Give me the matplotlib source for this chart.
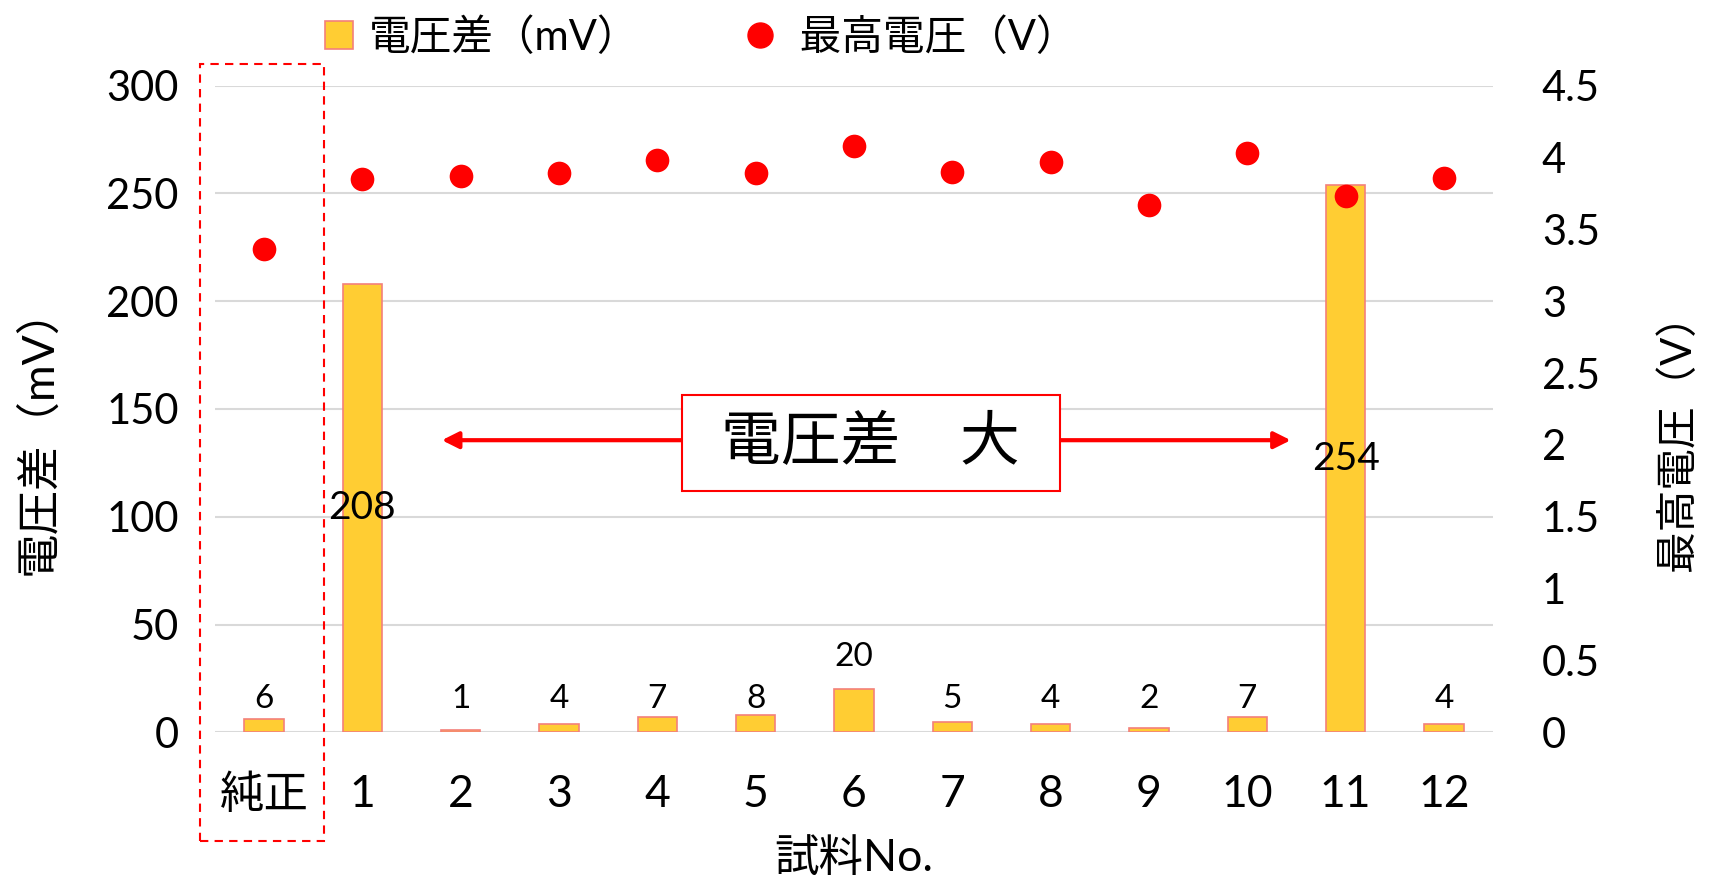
import matplotlib
matplotlib.use('Agg')
import matplotlib.pyplot as plt
from matplotlib.patches import Rectangle
from matplotlib.lines import Line2D
import numpy as np

plt.rcParams['font.family'] = ['Lato', 'Noto Sans CJK JP', 'DejaVu Sans']

# データ
categories = ['純正', '1', '2', '3', '4', '5', '6', '7', '8', '9', '10', '11', '12']
voltage_diff = [6, 208, 1, 4, 7, 8, 20, 5, 4, 2, 7, 254, 4]          # 電圧差 (mV)
max_voltage = [3.36, 3.85, 3.87, 3.89, 3.98, 3.89, 4.08, 3.90, 3.97,
               3.67, 4.03, 3.73, 3.86]                                  # 最高電圧 (V)
left_ticks = [0, 50, 100, 150, 200, 250, 300]
right_ticks = [0, 0.5, 1, 1.5, 2, 2.5, 3, 3.5, 4, 4.5]
right_tick_labels = ['0', '0.5', '1', '1.5', '2', '2.5', '3', '3.5', '4', '4.5']

bar_color = '#FFCD33'
bar_edge = '#F4807A'
red = '#FF0000'

fig = plt.figure(figsize=(17.19, 8.8), dpi=100)
ax = fig.add_axes([0.125, 0.1678, 0.7436, 0.735])
x = np.arange(len(categories))

ax.bar(x, voltage_diff, width=0.4, color=bar_color, edgecolor=bar_edge, linewidth=1.2, zorder=3)
ax.set_xlim(-0.5, len(categories) - 0.5)
ax.set_ylim(0, 300)
ax.set_yticks(left_ticks)
ax.set_yticklabels([str(t) for t in left_ticks])
ax.set_xticks(x)
ax.set_xticklabels(categories)
ax.tick_params(axis='both', length=0)
ax.tick_params(axis='y', pad=26, labelsize=30)
ax.tick_params(axis='x', pad=30, labelsize=32)
ax.grid(axis='y', color='#D9D9D9', linewidth=1.5, zorder=0)
ax.set_axisbelow(True)
for s in ax.spines.values():
    s.set_visible(False)

# 棒ラベル（小さい値は同じ高さに揃える）
for i, v in enumerate(voltage_diff):
    if v > 100:
        ax.text(i, v / 2, str(v), ha='center', va='center', fontsize=28, zorder=5)
    else:
        ax.text(i, v + 15 if v >= 10 else 15.3, str(v),
                ha='center', va='center', fontsize=24, zorder=5)

ax.set_ylabel('電圧差（mV）', fontsize=32, va='center')
ax.yaxis.set_label_coords(-0.138, 0.467)
ax.set_xlabel('試料No.', fontsize=32, labelpad=16)

# 右軸
ax2 = ax.twinx()
ax2.scatter(x, max_voltage, s=290, color=red, zorder=4, linewidths=0)
ax2.set_ylim(0, 4.5)
ax2.set_yticks(right_ticks)
ax2.set_yticklabels(right_tick_labels)
ax2.tick_params(axis='y', length=0, labelsize=30, pad=35)
for s in ax2.spines.values():
    s.set_visible(False)
ax2.set_ylabel('最高電圧（V）', fontsize=30, va='center')
ax2.yaxis.set_label_coords(1.144, 0.464)

# 電圧差 大 の矢印と枠
ax.annotate('', xy=(1.78, 135.5), xytext=(6.2, 135.5),
            arrowprops=dict(arrowstyle='-|>', color=red, lw=3, mutation_scale=25), zorder=6)
ax.annotate('', xy=(10.47, 135.5), xytext=(6.2, 135.5),
            arrowprops=dict(arrowstyle='-|>', color=red, lw=3, mutation_scale=25), zorder=6)
ax.add_patch(Rectangle((4.25, 111.9), 3.84, 44.7, facecolor='white', edgecolor=red,
                       linewidth=1.5, zorder=7))
ax.text(6.17, 134.0, '電圧差\u3000大', ha='center', va='center', fontsize=43,
        family=['Noto Sans CJK JP'], zorder=8)

# 純正の点線枠
fig.patches.append(Rectangle((200 / 1719, 1 - 841 / 880), 124 / 1719, 777 / 880,
                             transform=fig.transFigure, fill=False, edgecolor=red,
                             linestyle=(0, (4, 3)), linewidth=1.5))

# 凡例
handles = [Line2D([], [], marker='s', linestyle='none', markersize=20,
                  markerfacecolor=bar_color, markeredgecolor=bar_edge, markeredgewidth=1.2),
           Line2D([], [], marker='o', linestyle='none', markersize=18,
                  markerfacecolor=red, markeredgecolor=red)]
fig.legend(handles, ['電圧差（mV）', ' 最高電圧（V）'], loc='center', bbox_to_anchor=(0.406, 0.958),
           ncol=2, frameon=False, fontsize=30, handletextpad=0.2, columnspacing=2.4,
           handlelength=1.0)

plt.savefig('out.png', dpi=100)
